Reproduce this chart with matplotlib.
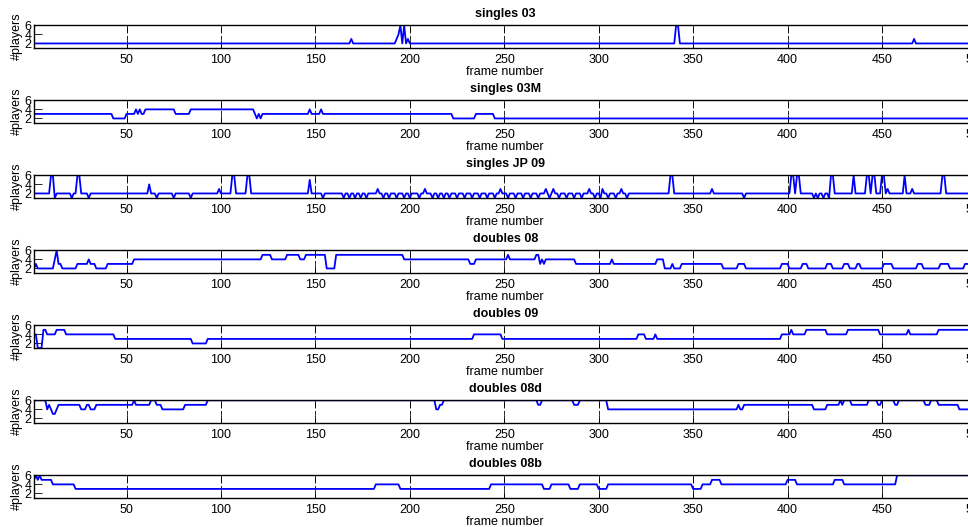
import numpy as np
import matplotlib
matplotlib.use("Agg")
import matplotlib.pyplot as plt

plt.rcParams['font.family'] = ['Liberation Sans', 'DejaVu Sans']

# each series is a list of (first frame, #players) runs
titles = ['singles 03', 'singles 03M', 'singles JP 09', 'doubles 08',
          'doubles 09', 'doubles 08d', 'doubles 08b']

singles_03 = [(1, 2), (169, 3), (170, 2), (193, 3), (194, 4), (195, 6), (196, 2),
              (197, 6), (198, 2), (199, 3), (200, 2), (341, 6), (343, 2),
              (467, 3), (468, 2)]

singles_03M = [(1, 3), (43, 2), (50, 3), (55, 4), (56, 3), (57, 4), (58, 3),
               (60, 4), (76, 3), (84, 4), (118, 3), (119, 2), (120, 3), (121, 2),
               (122, 3), (147, 4), (148, 3), (153, 4), (154, 3), (223, 2),
               (235, 3), (245, 2)]

singles_JP09 = [(1, 2), (10, 6), (12, 1), (13, 2), (21, 1), (22, 2), (24, 6), (26, 2),
                (30, 1), (31, 2), (62, 4), (63, 2), (66, 1), (67, 2), (75, 1), (76, 2),
                (84, 1), (85, 2), (99, 3), (100, 2), (106, 6), (108, 2), (114, 6),
                (116, 2), (147, 5), (148, 2), (154, 1), (155, 2),
                (165, 1), (166, 2), (168, 1), (169, 2), (171, 1), (172, 2), (174, 1),
                (175, 2), (177, 1), (178, 2), (183, 3), (184, 2), (186, 1), (187, 2),
                (189, 1), (190, 2), (193, 1), (194, 2), (197, 1), (198, 2), (200, 1),
                (201, 2), (205, 1), (206, 2), (208, 3), (209, 2), (212, 1), (213, 2),
                (215, 1), (216, 2), (218, 1), (219, 2), (221, 1), (222, 2), (225, 1),
                (226, 2), (229, 1), (230, 2), (233, 1), (234, 2), (237, 1), (238, 2),
                (241, 1), (242, 2), (245, 1), (246, 2), (248, 3), (249, 2), (252, 1),
                (253, 2), (256, 1), (257, 2), (260, 1), (261, 2), (264, 1), (265, 2),
                (268, 1), (269, 2), (272, 3), (273, 2), (274, 1), (275, 2), (276, 3),
                (277, 2), (279, 1), (280, 2), (283, 1), (284, 2), (287, 1), (288, 2),
                (291, 1), (292, 2), (295, 3), (296, 2), (298, 1), (299, 2), (301, 1),
                (302, 3), (303, 2), (305, 1), (306, 2), (309, 1), (310, 2), (312, 3),
                (313, 2), (315, 1), (316, 2),
                (338, 6), (340, 2), (360, 3), (361, 2), (377, 1), (378, 2),
                (402, 6), (404, 2), (405, 6), (407, 2), (414, 1), (415, 2), (416, 1),
                (417, 2), (419, 1), (420, 2), (422, 1), (423, 6), (425, 2),
                (435, 6), (436, 2), (442, 6), (444, 2), (445, 6), (447, 2),
                (450, 6), (452, 2), (453, 3), (454, 2), (462, 6), (463, 2),
                (466, 3), (467, 2), (482, 6), (484, 2)]

doubles_08 = [(1, 2), (2, 3), (3, 2), (12, 4), (13, 6), (14, 3), (16, 2), (24, 3),
              (30, 4), (31, 3), (34, 2), (40, 3), (54, 4), (122, 5), (127, 4),
              (135, 5), (142, 4), (145, 5), (156, 2), (161, 5), (197, 4), (232, 3),
              (235, 4), (252, 5), (253, 4), (267, 5), (269, 3), (270, 4), (271, 3),
              (272, 4), (288, 3), (307, 4), (308, 3), (331, 4), (335, 2), (339, 3),
              (340, 2), (344, 3), (366, 2), (374, 3), (378, 2), (397, 3), (401, 2),
              (408, 3), (411, 2), (421, 3), (424, 2), (430, 3), (433, 2), (437, 3),
              (439, 2), (451, 3), (456, 2), (469, 3), (472, 2), (481, 3), (486, 2),
              (494, 3)]

doubles_09 = [(1, 4), (3, 1), (6, 5), (8, 4), (13, 5), (18, 4), (44, 3), (85, 2),
              (93, 3), (234, 4), (249, 3), (321, 4), (325, 3), (330, 4), (331, 3),
              (397, 4), (402, 5), (403, 4), (410, 5), (421, 4), (432, 5), (449, 4),
              (464, 5), (465, 4), (480, 5)]

doubles_08d = [(1, 6), (8, 4), (9, 5), (10, 4), (11, 3), (13, 4), (14, 5), (26, 4),
               (29, 5), (31, 4), (34, 5), (54, 6), (55, 5), (63, 6), (66, 5), (69, 4),
               (81, 5), (93, 6), (214, 4), (216, 5), (218, 6), (268, 5), (270, 6),
               (287, 5), (290, 6), (305, 4), (374, 5), (375, 4), (377, 5), (414, 4),
               (421, 5), (428, 6), (429, 5), (430, 6), (434, 5), (443, 6), (448, 5),
               (450, 6), (457, 5), (459, 6), (473, 5), (476, 6), (480, 5), (491, 4)]

doubles_08b = [(1, 5), (2, 6), (3, 5), (4, 6), (5, 5), (11, 4), (23, 3), (182, 4),
               (195, 3), (243, 4), (271, 3), (275, 4), (285, 3), (290, 4), (300, 3),
               (305, 4), (350, 3), (355, 4), (360, 5), (365, 4), (400, 5), (405, 4),
               (425, 5), (430, 4), (458, 6)]

n_frames = 500
frame_ticks = [50, 100, 150, 200, 250, 300, 350, 400, 450, 500]
player_ticks = [2, 4, 6]


def expand(runs, n):
    vals = np.zeros(n)
    for i, (start, v) in enumerate(runs):
        end = runs[i + 1][0] if i + 1 < len(runs) else n + 1
        vals[start - 1:end - 1] = v
    return vals


series = [singles_03, singles_03M, singles_JP09, doubles_08,
          doubles_09, doubles_08d, doubles_08b]
frames = np.arange(1, n_frames + 1)

fig = plt.figure(figsize=(9.68, 5.27), dpi=100)
left, width, height = 34 / 968, 942.4 / 968, 22.7 / 527
for k, (name, runs) in enumerate(zip(titles, series)):
    top = 25.3 + 75 * k
    ax = fig.add_axes([left, 1 - (top + 22.7) / 527, width, height])
    ax.plot(frames, expand(runs, n_frames), color='#0000ff', lw=1.3)
    ax.set_xlim(1, n_frames)
    ax.set_ylim(1, 6)
    ax.set_xticks(frame_ticks)
    ax.set_yticks(player_ticks)
    ax.tick_params(direction='in', length=6, width=0.6, top=True, right=True,
                   labelsize=9, pad=2, colors='k')
    ax.tick_params(axis='x', pad=4)
    ax.xaxis.grid(True, color='0.15', lw=0.7, ls=(0, (4.8, 3.4)))
    for s in ax.spines.values():
        s.set_linewidth(1.0)
    ax.set_title(name, fontsize=9, fontweight='bold', pad=6)
    ax.set_xlabel('frame number', fontsize=9, labelpad=0)
    ax.set_ylabel('#players', fontsize=9, labelpad=1)

fig.savefig('out.png', dpi=100)
